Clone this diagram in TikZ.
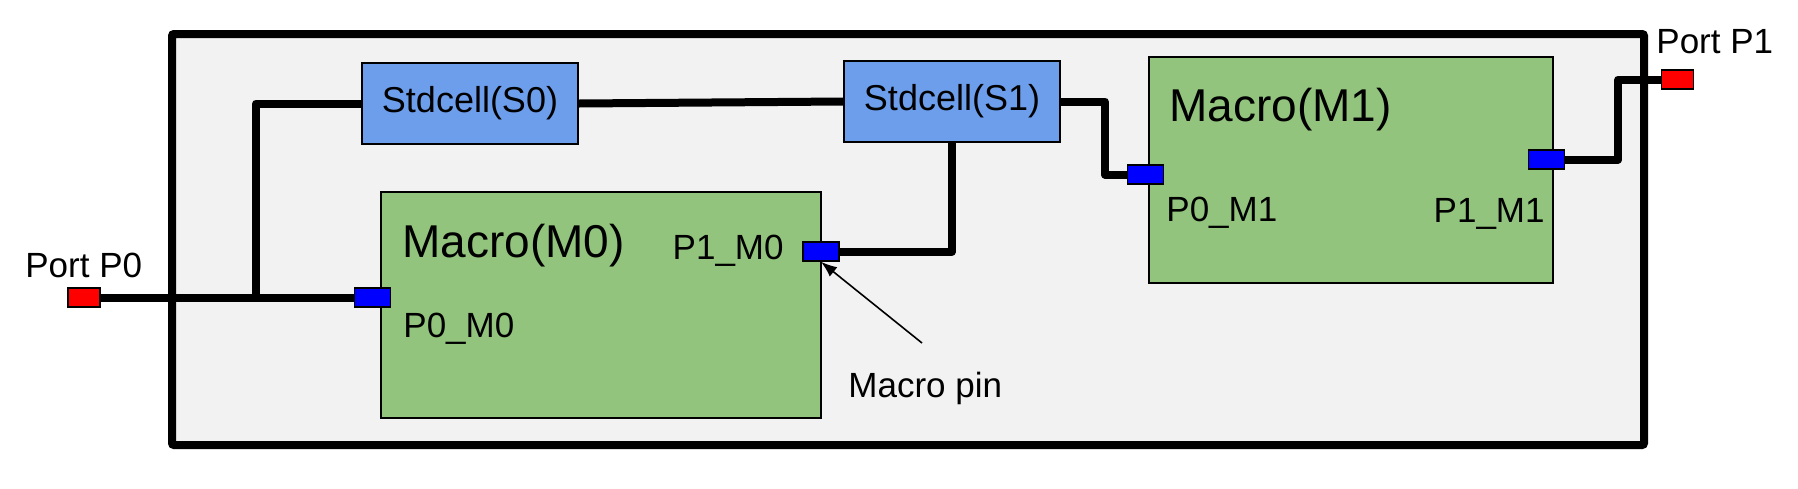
\documentclass[tikz,border=0pt]{standalone}
\usepackage{fontspec}
\setmainfont{Liberation Sans}
\usetikzlibrary{arrows.meta}
\definecolor{cellblue}{HTML}{6D9EEB}
\definecolor{macrogreen}{HTML}{93C47D}
\definecolor{floorgray}{HTML}{F2F2F2}

\begin{document}
\begin{tikzpicture}[x=0.5pt,y=-0.5pt,
  cell/.style={draw,line width=0.8pt,fill=cellblue,minimum width=108pt,minimum height=40.5pt,inner sep=0pt,font=\fontsize{18}{21}\selectfont},
  macro/.style={draw,line width=0.8pt,fill=macrogreen,minimum height=113pt,inner sep=0pt},
  pin/.style={draw,line width=0.8pt,fill=blue,minimum width=18pt,minimum height=9.5pt,inner sep=0pt},
  port/.style={draw,line width=0.8pt,fill=red,minimum width=16pt,minimum height=9.5pt,inner sep=0pt},
  lbl/.style={inner sep=0pt,font=\fontsize{17.5}{21}\selectfont},
  biglbl/.style={inner sep=0pt,font=\fontsize{23}{27}\selectfont},
  wire/.style={line width=4pt,line join=round}]
  \useasboundingbox (0,0) rectangle (1798,488);
  \filldraw[fill=floorgray,line width=4pt,rounded corners=1pt] (172,34) rectangle (1644,445); %

  % cells and macros
  \node[cell] (s0) at (470,103.5) {Stdcell(S0)};
  \node[cell] (s1) at (952,101.5) {Stdcell(S1)};
  \node[macro,minimum width=220pt] (m0) at (601,305) {};
  \node[macro,minimum width=202pt] (m1) at (1351,170) {};

  % pins and ports
  \node[port] (pp0) at (84,297.5) {};
  \node[port] (pp1) at (1677.5,79.5) {};
  \node[pin] (p0m0) at (372.5,297.5) {};
  \node[pin] (p1m0) at (821,251.5) {};
  \node[pin] (p0m1) at (1145.5,174.5) {};
  \node[pin] (p1m1) at (1546.5,159.5) {};

  \node[lbl,anchor=base west] (pp0lbl) at (25,277) {Port P0};
  \node[lbl,anchor=base west] (pp1lbl) at (1656,53) {Port P1};
  \node[biglbl,anchor=base west] (m0lbl) at (402,257) {Macro(M0)};
  \node[biglbl,anchor=base west] (m1lbl) at (1169,121) {Macro(M1)};
  \node[lbl,anchor=base west] (p0m0lbl) at (403,337) {P0\_M0};
  \node[lbl,anchor=base east] (p1m0lbl) at (784,259) {P1\_M0};
  \node[lbl,anchor=base west] (p0m1lbl) at (1166,221) {P0\_M1};
  \node[lbl,anchor=base east] (p1m1lbl) at (1545,222) {P1\_M1};
  \node[lbl,anchor=base west] (pinlbl) at (848,397) {Macro pin};

  % nets
  \coordinate (br) at (256,297.5);
  \coordinate (pintail) at (922,343);
  \draw[wire] (pp0.east) -- (p0m0.west);
  \draw[wire] (br) |- (s0.west);
  \draw[wire] (s0.east) -- (s1.west);
  \draw[wire] (s1.south) |- (p1m0.east);
  \draw[wire] (s1.east) -- ++(44,0) |- (p0m1.west);
  \draw[wire] (p1m1.east) -- ++(53,0) |- (pp1.west);

  \draw[line width=0.8pt,-{Latex[length=8pt,width=6pt]}] (pintail) -- (p1m0.south);
\end{tikzpicture}
\end{document}
